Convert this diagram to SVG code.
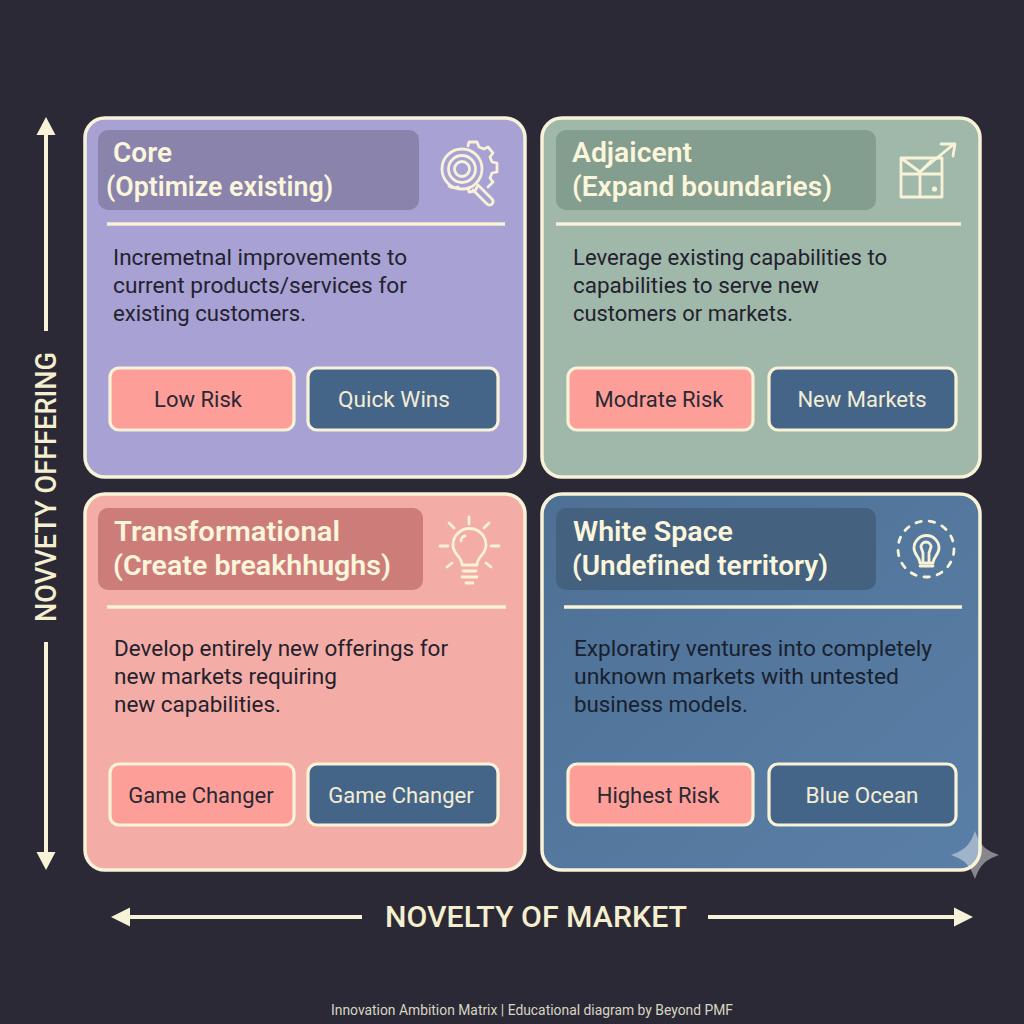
<svg xmlns="http://www.w3.org/2000/svg" width="1024" height="1024" viewBox="0 0 1024 1024">
<defs>
<style>
text{font-family:Roboto,"Liberation Sans",sans-serif;font-variant-ligatures:none}
.card{stroke:#f8f2d8;stroke-width:3.5}
.hd{fill:#fbf5dc;font-size:27.5px;font-weight:600}
.body{fill:#23212e;font-size:22.5px}
.bodyw{fill:#18202e;font-size:22.5px}
.div{stroke:#f8f2d8;stroke-width:3.5}
.pill{stroke:#f8f2d8;stroke-width:3.2}
.red{fill:#fd9f98}
.blue{fill:#456588}
.rt{fill:#2a2833;font-size:22px;text-anchor:middle}
.bt{fill:#f3edd5;font-size:22px;text-anchor:middle}
.ic{fill:none;stroke:#f8f2d8;stroke-width:2.8;stroke-linecap:round;stroke-linejoin:round}
.ax{stroke:#f8f2d8;stroke-width:4;fill:none}
.ah{fill:#f8f2d8}
.axt{fill:#f6efcf;font-size:29px;font-weight:500;text-anchor:middle}
</style>
<linearGradient id="gb" x1="0" y1="0" x2="1" y2="1"><stop offset="0" stop-color="#4e7095"/><stop offset="1" stop-color="#5a7fa6"/></linearGradient>
</defs>
<rect width="1024" height="1024" fill="#2b2935"/>

<g id="node-core">
<rect class="card" x="85" y="118" width="440" height="359" rx="20" fill="#a7a1d4"/>
<rect x="98" y="130" width="321" height="80" rx="10" fill="#8a84ad"/>
<text class="hd" x="113" y="162" textLength="59" lengthAdjust="spacingAndGlyphs">Core</text>
<text class="hd" x="106" y="196" textLength="227" lengthAdjust="spacingAndGlyphs">(Optimize existing)</text>
<g class="ic">
<circle cx="462" cy="169" r="20"/><circle cx="462" cy="169" r="13.5"/><circle cx="462" cy="169" r="7.5"/>
<path d="M468 146l1-4 8 0 2 5 5 2 4-2 5 6-3 4 2 5 5 1 0 9-5 1-2 5 3 4-5 5"/>
<path d="M449 186c3 2 6 2 9 1M468 188l1 4 6-1 2-4"/>
<path d="M478 185l14 14a3 3 0 0 1-5 5l-14-14"/>
</g>
<line class="div" x1="107" y1="224" x2="505" y2="224"/>
<text class="body" x="113" y="265" textLength="294" lengthAdjust="spacingAndGlyphs">Incremetnal improvements to</text>
<text class="body" x="113" y="293" textLength="294" lengthAdjust="spacingAndGlyphs">current products/services for</text>
<text class="body" x="113" y="321" textLength="193" lengthAdjust="spacingAndGlyphs">existing customers.</text>
<rect class="pill red" x="110" y="368" width="184" height="62" rx="9"/>
<text class="rt" x="198" y="407">Low Risk</text>
<rect class="pill blue" x="308" y="368" width="190" height="62" rx="9"/>
<text class="bt" x="394" y="407" textLength="112" lengthAdjust="spacingAndGlyphs">Quick Wins</text>
</g>

<g id="node-adjacent">
<rect class="card" x="542" y="118" width="438" height="359" rx="20" fill="#9fb8a9"/>
<rect x="556" y="130" width="320" height="80" rx="10" fill="#839d8e"/>
<text class="hd" x="572" y="162" textLength="120" lengthAdjust="spacingAndGlyphs">Adjaicent</text>
<text class="hd" x="572" y="196" textLength="260" lengthAdjust="spacingAndGlyphs">(Expand boundaries)</text>
<g class="ic">
<path d="M901 158h41v39h-41zM901 158l19 14 11-11M920 172v25M901 174h41"/>
<path d="M921 171l33-27M941 144h14l-2 12"/>
<circle cx="934.500" cy="189" r="1.200"/>
</g>
<line class="div" x1="556" y1="224" x2="961" y2="224"/>
<text class="body" x="573" y="265" textLength="314" lengthAdjust="spacingAndGlyphs">Leverage existing capabilities to</text>
<text class="body" x="573" y="293" textLength="246" lengthAdjust="spacingAndGlyphs">capabilities to serve new</text>
<text class="body" x="573" y="321" textLength="220" lengthAdjust="spacingAndGlyphs">customers or markets.</text>
<rect class="pill red" x="568" y="368" width="185" height="62" rx="9"/>
<text class="rt" x="659" y="407">Modrate Risk</text>
<rect class="pill blue" x="769" y="368" width="187" height="62" rx="9"/>
<text class="bt" x="862" y="407">New Markets</text>
</g>

<g id="node-transformational">
<rect class="card" x="85" y="494" width="440" height="376" rx="20" fill="#f4aca6"/>
<rect x="98" y="508" width="325" height="82" rx="10" fill="#cd7d79"/>
<text class="hd" x="114" y="541" textLength="226" lengthAdjust="spacingAndGlyphs">Transformational</text>
<text class="hd" x="113" y="575" textLength="278" lengthAdjust="spacingAndGlyphs">(Create breakhhughs)</text>
<g class="ic">
<path d="M462 577h15M463 571h13M466 583h7"/>
<path d="M462 565c0-9-9-10-9-20a16 16 0 0 1 33 0c0 10-9 11-9 20z"/>
<path d="M461 541c0-3 2-5 4-5"/>
<path d="M469 517v7M449 523l5 5M489 523l-5 5M440 546h8M491 546h8M447 567l5-4M491 567l-5-4"/>
</g>
<line class="div" x1="107" y1="607" x2="506" y2="607"/>
<text class="body" x="114" y="656" textLength="334" lengthAdjust="spacingAndGlyphs">Develop entirely new offerings for</text>
<text class="body" x="114" y="684" textLength="223" lengthAdjust="spacingAndGlyphs">new markets requiring</text>
<text class="body" x="114" y="712" textLength="167" lengthAdjust="spacingAndGlyphs">new capabilities.</text>
<rect class="pill red" x="110" y="764" width="184" height="61" rx="9"/>
<text class="rt" x="201" y="803">Game Changer</text>
<rect class="pill blue" x="308" y="764" width="190" height="61" rx="9"/>
<text class="bt" x="401" y="803">Game Changer</text>
</g>

<g id="node-whitespace">
<rect x="542" y="494" width="438" height="376" rx="20" fill="url(#gb)"/>
<path id="sparkle" d="M975 831C980 845 985 850 999 855C985 860 980 865 975 879C970 865 965 860 951 855C965 850 970 845 975 831Z" fill="#f0f0f0" fill-opacity=".47"/>
<rect class="card" x="542" y="494" width="438" height="376" rx="20" fill="none"/>
<rect x="556" y="508" width="320" height="82" rx="10" fill="#44617f"/>
<text class="hd" x="573" y="541" textLength="160" lengthAdjust="spacingAndGlyphs">White Space</text>
<text class="hd" x="572" y="575" textLength="256" lengthAdjust="spacingAndGlyphs">(Undefined territory)</text>
<g class="ic">
<circle cx="926" cy="549" r="28" stroke-dasharray="5.500 8"/>
<path d="M920 563c0-6-6-8-6-15a12.500 12.500 0 0 1 25 0c0 7-6 9-6 15z"/>
<path d="M923 562v-9l-2-6a5 5 0 1 1 10 0l-2 6v9"/>
<path d="M920 566h13"/>
</g>
<line class="div" x1="564" y1="607" x2="962" y2="607"/>
<text class="bodyw" x="574" y="656" textLength="358" lengthAdjust="spacingAndGlyphs">Exploratiry ventures into completely</text>
<text class="bodyw" x="574" y="684" textLength="325" lengthAdjust="spacingAndGlyphs">unknown markets with untested</text>
<text class="bodyw" x="574" y="712" textLength="174" lengthAdjust="spacingAndGlyphs">business models.</text>
<rect class="pill red" x="568" y="764" width="185" height="61" rx="9"/>
<text class="rt" x="658" y="803">Highest Risk</text>
<rect class="pill blue" x="769" y="764" width="187" height="61" rx="9"/>
<text class="bt" x="862" y="803" textLength="113" lengthAdjust="spacingAndGlyphs">Blue Ocean</text>
</g>

<g id="connectors">
<path class="ax" d="M46 130V331M46 642V858M125 917H362M708 917H961"/>
<path class="ah" d="M46 117l9.500 18h-19zM46 870l-9.500-18h19zM111 917l19-9.500v19zM973 917l-19-9.500v19z"/>
</g>

<text class="axt" transform="translate(56 487) rotate(-90)" textLength="270" lengthAdjust="spacingAndGlyphs">NOVVETY OFFFERING</text>
<text class="axt" x="536" y="927" textLength="302" lengthAdjust="spacingAndGlyphs">NOVELTY OF MARKET</text>
<text x="532" y="1015" fill="#d9d5c4" font-size="14.500" text-anchor="middle" textLength="402" lengthAdjust="spacingAndGlyphs">Innovation Ambition Matrix | Educational diagram by Beyond PMF</text>
</svg>
